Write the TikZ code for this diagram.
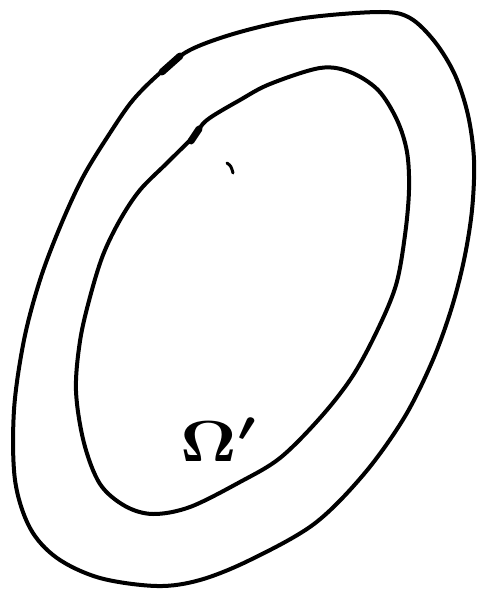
\documentclass[tikz,border=0pt]{standalone}
\begin{document}
\begin{tikzpicture}[x=1pt,y=-1pt,
  pen/.style={line width=4pt,line cap=round,line join=round,black},
  blob/.style={line width=7pt,line cap=round,black}]
\useasboundingbox (0,0) rectangle (477,591);
% outer curve
\draw[pen] plot[smooth cycle,tension=0.55] coordinates {
 (190,50) (240,32) (304,18) (380,12) (410,18) (435,42) (455,75) (468,115)
 (474,160) (472,210) (464,260) (451,310) (432,362) (404,418) (364,474)
 (314,524) (250,560) (200,580) (157,586) (100,578) (57,558) (30,528)
 (15,480) (14,410) (24,340) (40,280) (60,227) (83,177) (110,133)
 (133,100) (160,73)};
% inner curve
\draw[pen] plot[smooth cycle,tension=0.55] coordinates {
 (207,120) (240,100) (270,84) (320,68) (350,72) (378,90) (397,120)
 (407,152) (409,190) (405,235) (396,285) (377,331) (352,377) (320,418)
 (280,458) (240,482) (190,507) (153,514) (125,506) (100,484) (84,443)
 (76,391) (80,341) (90,297) (103,255) (120,220) (140,190) (167,163)
 (193,137)};
% pen blobs
\draw[blob] (162,72) -- (180,56);
\draw[blob] (191,141) -- (199,129);
% small tick
\draw[line width=3pt,line cap=round] (227,163) .. controls (231,166) .. (233,173);
% label
\node[inner sep=0pt] (omega) at (220,440) {\scalebox{6.8}[5.8]{{\boldmath$\Omega'$}}};
\end{tikzpicture}
\end{document}
